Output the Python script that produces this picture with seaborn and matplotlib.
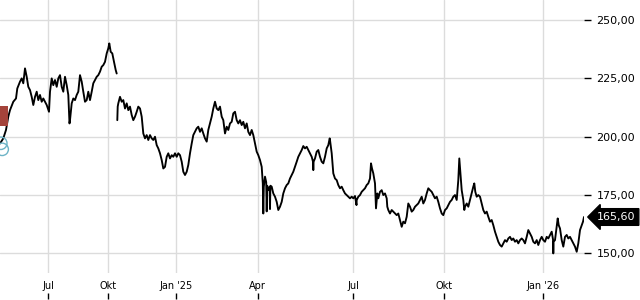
import matplotlib
matplotlib.use("Agg")
import matplotlib.pyplot as plt
import matplotlib.transforms as mtransforms
import seaborn as sns
import pandas as pd

# ---- data (trading-index position, price) ----
seg1_x = [0.0, 3.3, 6.0, 8.3, 10.0, 13.3, 16.0, 17.3, 20.0, 21.7, 23.3, 25.0, 26.7, 28.3, 30.0,
          31.7, 33.3, 35.0, 36.7, 38.3, 40.0, 41.7, 43.3, 46.7, 49.0, 50.0, 51.7, 53.3, 55.0,
          56.7, 58.3, 60.0, 61.7, 63.3, 65.0, 66.7, 68.3, 69.5, 70.0, 71.7, 73.3, 75.0, 76.7,
          78.3, 80.0, 81.7, 83.3, 85.0, 86.7, 88.3, 90.0, 91.7, 93.3, 95.0, 96.7, 98.3, 100.0,
          101.7, 103.3, 105.0, 106.7, 108.3, 109.3, 110.7, 112.3, 114.0, 115.7, 116.7]
seg1_y = [197.1, 199.3, 202.9, 208.6, 211.4, 215.0, 216.4, 220.7, 223.6, 225.0, 222.9, 229.3,
          225.7, 221.4, 220.0, 217.1, 213.6, 217.1, 219.3, 215.7, 217.9, 215.0, 216.4, 213.6,
          210.7, 219.3, 225.0, 222.1, 224.3, 221.4, 225.0, 226.4, 221.4, 219.3, 225.7, 222.1,
          217.9, 205.7, 207.1, 214.3, 216.4, 215.7, 217.9, 219.3, 226.4, 223.6, 219.3, 215.0,
          215.7, 219.3, 215.7, 219.3, 222.9, 224.3, 225.7, 226.4, 227.9, 230.0, 230.7, 232.1,
          235.7, 237.9, 240.0, 236.4, 235.7, 232.1, 228.6, 227.1]

seg2_x = [117.3, 117.7, 118.3, 120.0, 121.7, 123.3, 125.0, 126.7, 128.3, 130.0, 131.7, 133.3,
          135.0, 136.7, 138.3, 140.0, 141.7, 143.3, 145.0, 146.7, 148.3, 150.0, 151.7, 153.3,
          155.0, 156.7, 158.3, 160.0, 161.7, 163.3, 165.0, 166.7, 168.3, 170.0, 171.7, 173.3,
          175.0, 176.7, 178.3, 180.0, 181.7, 183.3, 185.0, 186.7, 188.3, 190.0, 191.7, 193.3,
          195.0, 196.7, 198.3, 200.0, 201.7, 203.3, 205.0, 206.7, 208.3, 210.0, 211.7, 213.3,
          215.0, 216.7, 218.3, 220.0, 221.7, 223.3, 225.0, 226.7, 228.3, 230.0, 231.7, 233.3,
          235.0, 236.7, 238.3, 240.0, 241.7, 243.3, 245.0, 246.7, 248.3, 250.0, 251.7, 253.3,
          255.0, 256.7, 258.3, 260.0, 261.7, 262.8, 263.3, 263.8, 265.0, 266.2, 266.7, 267.2,
          268.3, 269.6, 270.0, 270.4, 271.7, 273.3, 275.0, 276.7, 278.3, 280.0, 281.7, 283.3,
          285.0, 286.7, 288.3, 290.0, 291.7, 293.3, 295.0, 296.7, 298.3, 300.0, 301.7, 303.3,
          305.0, 306.7, 308.3, 310.0, 311.7, 313.0, 313.3, 313.6, 315.0, 316.7, 318.3, 320.0,
          321.7, 323.3, 325.0, 326.7, 328.3, 329.7, 330.0, 331.7, 333.3, 335.0, 336.7, 338.3,
          340.0, 341.7, 343.3, 345.0, 346.7, 348.3, 350.0, 351.7, 353.3, 355.0, 356.5, 356.7,
          358.3, 360.0, 361.7, 363.3, 365.0, 366.7, 368.3, 370.0, 371.0, 372.0, 373.3, 375.0,
          376.0, 377.3, 378.3, 380.0, 381.7, 383.3, 385.0, 386.7, 387.3, 388.3, 390.0, 391.7,
          393.3, 395.0, 396.7, 398.3, 400.0, 401.7, 403.3, 405.0, 406.7, 408.3, 410.0, 411.7,
          413.3, 415.0, 416.7, 418.3, 420.0, 421.7, 423.3, 425.0, 426.7, 428.3, 430.0, 431.7,
          433.3, 435.0, 436.7, 438.3, 440.0, 441.7, 443.3, 445.0, 446.7, 448.3, 450.0, 451.7,
          453.3, 455.0, 456.7, 458.3, 459.3, 460.7, 461.7, 463.3, 464.3, 465.0, 466.7, 468.3,
          470.0, 471.7, 473.3, 474.3, 475.3, 476.7, 478.3, 480.0, 481.7, 483.3, 485.0, 486.7,
          488.3, 490.0, 491.7, 493.3, 495.0, 496.7, 498.3, 500.0, 501.7, 503.3, 505.0, 506.7,
          508.3, 510.0, 511.7, 513.3, 515.0, 516.7, 518.3, 520.0, 521.7, 523.3, 525.0, 526.7,
          528.3, 530.0, 531.7, 533.3, 535.0, 536.7, 538.3, 540.0, 541.7, 543.3, 545.0, 546.7,
          548.3, 550.0, 551.7, 553.0, 553.3, 553.6, 555.0, 556.7, 557.7, 558.7, 560.0, 561.7,
          563.3, 565.0, 566.7, 568.3, 570.0, 571.7, 573.3, 575.0, 576.7, 578.3, 580.0, 581.7,
          583.0, 584.0]
seg2_y = [207.1, 212.9, 214.3, 217.1, 215.0, 215.7, 212.1, 214.3, 211.4, 212.9, 209.3, 207.1,
          208.6, 210.7, 212.9, 212.1, 208.6, 201.4, 199.3, 200.7, 198.6, 200.7, 199.3, 198.6,
          200.0, 196.4, 195.0, 192.9, 190.0, 186.4, 187.1, 191.4, 192.9, 190.7, 192.1, 191.4,
          192.9, 191.4, 192.9, 192.1, 189.3, 185.0, 183.6, 185.0, 187.9, 192.9, 197.1, 200.7,
          202.1, 203.6, 204.3, 202.1, 203.6, 201.4, 199.3, 197.9, 202.9, 205.7, 208.6, 212.1,
          215.0, 212.1, 211.4, 212.9, 208.6, 207.1, 201.4, 204.3, 202.9, 205.7, 206.4, 210.0,
          210.7, 207.1, 205.7, 207.1, 205.0, 206.4, 203.6, 205.7, 202.1, 200.7, 202.9, 200.7,
          197.1, 193.6, 192.1, 190.0, 187.1, 180.0, 167.1, 178.6, 182.9, 180.5, 168.0, 179.0,
          177.1, 178.5, 169.0, 179.0, 178.6, 175.7, 174.3, 172.1, 168.6, 170.0, 172.1, 175.7,
          177.9, 179.3, 180.0, 182.1, 183.6, 185.0, 187.1, 189.3, 191.4, 192.9, 194.3, 196.0,
          195.0, 195.7, 194.3, 192.9, 191.4, 189.3, 185.7, 189.3, 190.7, 193.6, 194.3, 191.4,
          189.3, 188.6, 191.4, 195.0, 196.4, 199.3, 198.6, 192.9, 184.3, 182.1, 181.4, 179.3,
          177.9, 178.6, 177.1, 175.7, 175.0, 174.3, 173.6, 174.3, 173.6, 174.6, 170.7, 172.9,
          174.3, 175.0, 176.4, 177.1, 177.9, 179.3, 180.0, 182.1, 188.6, 186.4, 184.3, 180.0,
          169.3, 175.7, 173.6, 176.4, 177.1, 175.0, 175.7, 173.6, 170.0, 168.6, 167.1, 168.6,
          167.9, 167.1, 166.4, 167.1, 164.3, 161.4, 163.6, 162.9, 165.7, 171.4, 170.0, 167.9,
          168.6, 170.0, 170.7, 171.4, 172.9, 174.3, 171.4, 172.9, 175.7, 177.9, 177.1, 176.4,
          175.0, 173.6, 174.3, 172.1, 169.3, 167.1, 166.4, 168.6, 169.3, 170.7, 172.1, 172.9,
          174.3, 175.0, 172.9, 181.4, 190.7, 182.9, 177.1, 172.9, 168.6, 170.0, 171.4, 170.0,
          172.9, 175.7, 178.6, 180.0, 176.4, 174.3, 175.0, 174.3, 171.4, 168.6, 167.1, 167.9,
          165.7, 163.6, 164.3, 162.1, 159.3, 157.1, 155.0, 153.6, 152.9, 154.3, 155.7, 155.0,
          156.4, 157.1, 155.7, 156.4, 155.0, 155.7, 154.3, 155.7, 156.4, 155.7, 154.3, 157.1,
          160.0, 158.6, 157.1, 155.0, 154.3, 155.7, 153.6, 155.7, 157.1, 155.7, 155.0, 157.1,
          156.4, 157.9, 159.3, 156.0, 150.0, 155.0, 155.7, 161.4, 165.0, 162.1, 160.7, 155.7,
          152.9, 157.1, 157.9, 156.4, 157.1, 155.7, 154.3, 152.9, 150.7, 154.3, 160.0, 162.1,
          163.6, 165.6]

last_price = 165.60
last_label = "165,60"

y_ticks = [150, 175, 200, 225, 250]
y_tick_labels = ["150,00", "175,00", "200,00", "225,00", "250,00"]
x_ticks = [48.3, 108.3, 175.7, 257.7, 353.3, 444.3, 543.3]
x_tick_labels = ["Jul", "Okt", "Jan '25", "Apr", "Jul", "Okt", "Jan '26"]

# event markers at the left edge
flag_x = [-2.5]
flag_y = [208.9]
news_x = [0.8, 2.2]
news_y = [197.2, 194.6]

# ---- build frame ----
df = pd.DataFrame({
    "pos": seg1_x + seg2_x,
    "price": seg1_y + seg2_y,
    "seg": [1] * len(seg1_x) + [2] * len(seg2_x),
})

sns.set_theme(style="white")
plt.rcParams["font.family"] = ["DejaVu Sans"]

fig = plt.figure(figsize=(6.4, 3.0), dpi=100)
ax = fig.add_axes([0.0, 27 / 300, 584 / 640, 273 / 300])

sns.lineplot(data=df, x="pos", y="price", units="seg", estimator=None, sort=False,
             color="black", linewidth=1.35, ax=ax, legend=False)

ax.scatter(flag_x, flag_y, marker="s", s=200, color="#a4433a", linewidths=0, zorder=3)
ax.scatter(news_x, news_y, marker="o", s=80, facecolors="none",
           edgecolors="#6db4c6", linewidths=1.0, zorder=3)

ax.set_xlim(0, 584)
ax.set_ylim(141.6, 258.6)
ax.set_xlabel("")
ax.set_ylabel("")

for s in ax.spines.values():
    s.set_visible(False)

ax.set_yticks(y_ticks)
ax.set_yticklabels(y_tick_labels)
ax.yaxis.tick_right()
ax.tick_params(axis="y", which="both", right=True, left=False, length=5, width=1.0,
               color="black", pad=4, labelsize=8, labelcolor="black")

ax.set_xticks(x_ticks)
ax.set_xticklabels(x_tick_labels)
ax.tick_params(axis="x", which="both", bottom=True, length=0, pad=5.5,
               labelsize=7, labelcolor="black")

ax.grid(True, color="#dcdcdc", linewidth=1.0)
ax.set_axisbelow(True)

# small tick marks below the date labels
sec = ax.secondary_xaxis(-0.075)
sec.set_xticks(x_ticks)
sec.set_xticklabels([""] * len(x_ticks))
sec.tick_params(axis="x", length=4, width=1.0, color="black", direction="out")
sec.spines["bottom"].set_visible(False)

# last-price tag
trans = mtransforms.blended_transform_factory(ax.transAxes, ax.transData)
ax.text(1.0 + 13 / 584, last_price, last_label, transform=trans, color="white",
        fontsize=8, va="center", ha="left", clip_on=False,
        bbox=dict(boxstyle="larrow,pad=0.3", fc="black", ec="black"))

fig.savefig("out.png", dpi=100)
